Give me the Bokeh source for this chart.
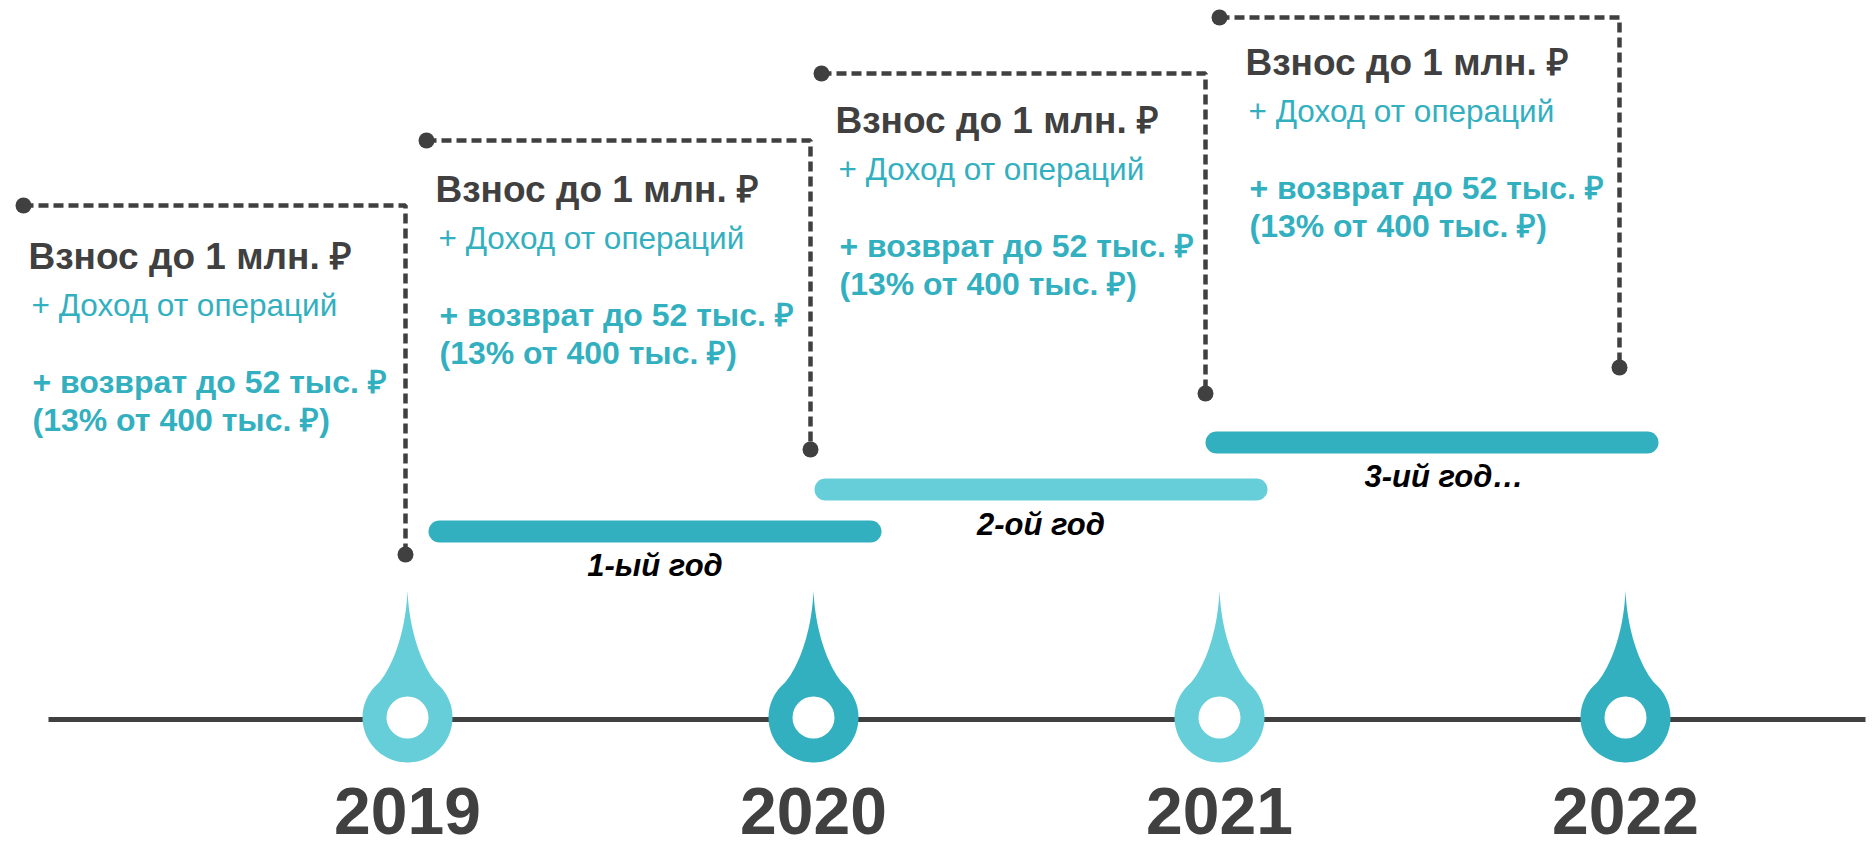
import numpy as np
from bokeh.plotting import figure
from bokeh.models import Range1d
from bokeh.embed import file_html
from bokeh.resources import INLINE
from bokeh.core.properties import value

# ---------------- data ----------------
years = [2019, 2020, 2021, 2022]
year_labels = ["2019", "2020", "2021", "2022"]
drop_shades = ["light", "dark", "light", "dark"]

block_title = ["Взнос до 1 млн. ₽"] * 4
block_income = ["+ Доход от операций"] * 4
block_refund = ["+ возврат до 52 тыс. ₽"] * 4
block_refund_note = ["(13% от 400 тыс. ₽)"] * 4

period_start_year = [2019, 2020, 2021]
period_labels = ["1-ый год", "2-ой год", "3-ий год…"]
period_shades = ["dark", "light", "dark"]

# ---------------- style / layout ----------------
COLORS = {"light": "#66CED8", "dark": "#33B0BF"}
TEAL = "#33B0BF"
DARK = "#404040"
FONT = value("Liberation Sans")

W, H = 1873, 849
PX_PER_YEAR = 406.0
FIRST_YEAR_PX = 407.0          # page x of the first year
AXIS_Y = 719
AXIS_X = (48, 1865)
DROP_Y = 717
DROP_R = 45
HOLE_D = 42
YEAR_BASE = 810

CONN_TOP = [205, 140, 73, 17]
CONN_BOTTOM = [554, 449, 393, 367]
CONN_X_OFF = [-2, -3, -14, -6]       # px, from the year
CONN_START_OFF = [22, 19, 8, 0]      # px, from the previous year
TEXT_LEFT_OFF = [27, 28, 22, 26]     # px, from the previous year
TITLE_BASE = [256, 189, 120, 62]
LINE_OFFS = [0, 48, 125, 163]

BAR_Y = [531, 489, 442]
BAR_START_OFF = [32, 12, -3]
BAR_LEN = 431
BAR_W = 22
LABEL_DY = [34, 35, 34]
LABEL_DX = [0, 0, 12]


def yr(year, dx_px=0.0):
    return year + dx_px / PX_PER_YEAR


x_start = yr(years[0], -FIRST_YEAR_PX)
p = figure(width=W, height=H, output_backend="svg", toolbar_location=None,
           x_range=Range1d(x_start, x_start + W / PX_PER_YEAR),
           y_range=Range1d(H, 0), min_border=0,
           background_fill_color="white", border_fill_color="white")
p.axis.visible = False
p.grid.visible = False
p.outline_line_color = None

# timeline axis line
p.line(x=[x_start + AXIS_X[0] / PX_PER_YEAR, x_start + AXIS_X[1] / PX_PER_YEAR],
       y=[AXIS_Y, AXIS_Y], line_color=DARK, line_width=5)

# drop shape (px offsets around the ring centre)
def bez(p0, p1, p2, p3, n=30):
    t = np.linspace(0, 1, n)[:, None]
    return ((1 - t) ** 3) * np.array(p0) + 3 * ((1 - t) ** 2) * t * np.array(p1) \
        + 3 * (1 - t) * t ** 2 * np.array(p2) + t ** 3 * np.array(p3)

sh_y = -34.0
sh_x = np.sqrt(DROP_R ** 2 - sh_y ** 2)
left_side = bez((0, -127), (-2, -80), (-18, -46), (-sh_x, sh_y))
phi0 = np.degrees(np.arctan2(sh_y, -sh_x)) % 360
phi1 = np.degrees(np.arctan2(sh_y, sh_x))
phi = np.radians(np.linspace(phi0, phi1, 90))
arc = np.column_stack([DROP_R * np.cos(phi), DROP_R * np.sin(phi)])
right_side = bez((sh_x, sh_y), (18, -46), (2, -80), (0, -127))
shape = np.vstack([left_side, arc, right_side])

xs, ys = [], []
for yv in years:
    xs.append(list(yr(yv) + shape[:, 0] / PX_PER_YEAR))
    ys.append(list(DROP_Y + shape[:, 1]))
p.patches(xs=xs, ys=ys, fill_color=[COLORS[s] for s in drop_shades], line_color=None)
p.scatter(x=years, y=[DROP_Y] * len(years), size=HOLE_D, marker="circle",
          fill_color="white", line_color=None)

# year labels
p.text(x=years, y=[YEAR_BASE] * len(years), text=year_labels, text_font=FONT,
       text_font_size="66px", text_font_style="bold", text_color=DARK,
       text_align="center", text_baseline="alphabetic")

# dashed connectors + dots
for i, yv in enumerate(years):
    xa = yr(yv - 1, CONN_START_OFF[i])
    xb = yr(yv, CONN_X_OFF[i])
    p.line(x=[xa, xb, xb], y=[CONN_TOP[i], CONN_TOP[i], CONN_BOTTOM[i]],
           line_color=DARK, line_width=4.5, line_dash="10 5")
    p.scatter(x=[xa, xb], y=[CONN_TOP[i], CONN_BOTTOM[i]], size=16,
              marker="circle", fill_color=DARK, line_color=None)

# text blocks
tx = [yr(yv - 1, TEXT_LEFT_OFF[i]) for i, yv in enumerate(years)]
common = dict(text_font=FONT, text_align="left", text_baseline="alphabetic")
p.text(x=tx, y=[b + LINE_OFFS[0] for b in TITLE_BASE], text=block_title,
       text_font_size="37px", text_font_style="bold", text_color=DARK, **common)
p.text(x=[v + 3 / PX_PER_YEAR for v in tx], y=[b + LINE_OFFS[1] for b in TITLE_BASE],
       text=block_income, text_font_size="31.5px", text_color=TEAL, **common)
p.text(x=[v + 4 / PX_PER_YEAR for v in tx], y=[b + LINE_OFFS[2] for b in TITLE_BASE],
       text=block_refund, text_font_size="32px", text_font_style="bold",
       text_color=TEAL, **common)
p.text(x=[v + 4 / PX_PER_YEAR for v in tx], y=[b + LINE_OFFS[3] for b in TITLE_BASE],
       text=block_refund_note, text_font_size="32px", text_font_style="bold",
       text_color=TEAL, **common)

# period bars + labels
bx0 = [yr(s, BAR_START_OFF[i]) for i, s in enumerate(period_start_year)]
bx1 = [v + BAR_LEN / PX_PER_YEAR for v in bx0]
p.segment(x0=bx0, y0=BAR_Y, x1=bx1, y1=BAR_Y,
          line_color=[COLORS[s] for s in period_shades], line_width=BAR_W,
          line_cap="round")
p.text(x=[(a + b) / 2 + LABEL_DX[i] / PX_PER_YEAR for i, (a, b) in enumerate(zip(bx0, bx1))],
       y=[v + LABEL_DY[i] for i, v in enumerate(BAR_Y)], text=period_labels, text_font=FONT,
       text_font_size="31px", text_font_style="bold italic", text_color="black",
       text_align="center", text_baseline="alphabetic")

open("out.html", "w").write(file_html(p, INLINE))
